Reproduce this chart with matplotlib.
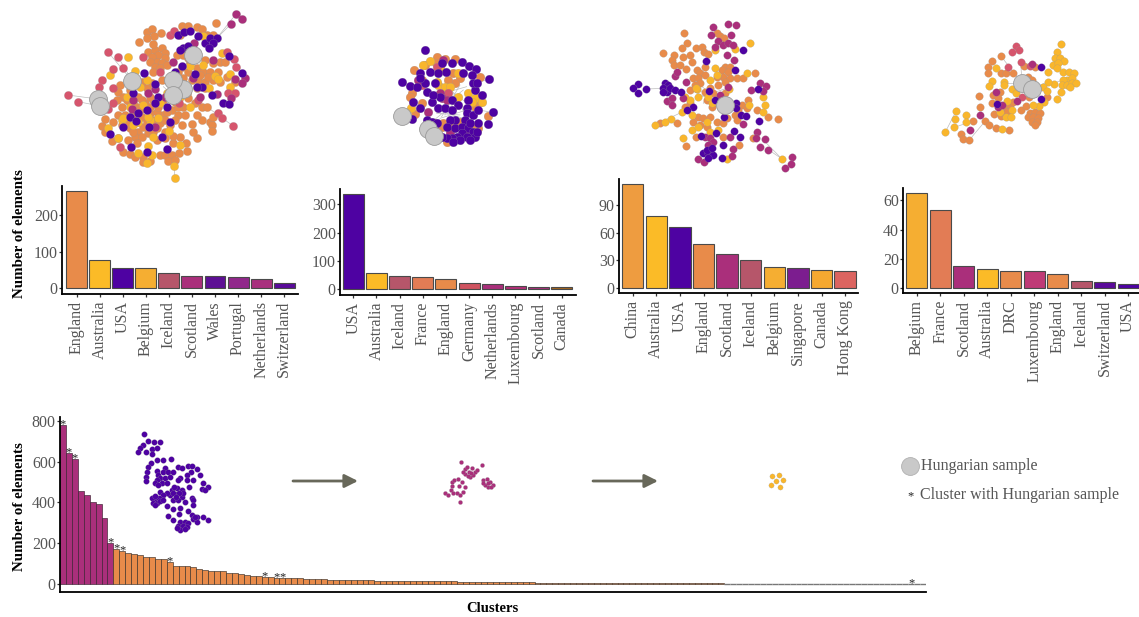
import matplotlib
matplotlib.use("Agg")
import matplotlib.pyplot as plt

W, H = 1139, 617
plt.rcParams['font.family'] = ['Liberation Serif', 'DejaVu Serif']

ORANGE = "#E88B4A"
YELLOW = "#F9B62C"
PURPLE = "#4E02A2"
MAGENTA = "#AA2F7B"
ROSE = "#D6556D"
GRAY_NODE = "#C9C9C9"
TEXT_GRAY = "#555555"

# === Country bars ===
countries1 = ["England", "Australia", "USA", "Belgium", "Iceland", "Scotland", "Wales", "Portugal", "Netherlands", "Switzerland"]
counts1 = [267, 76, 55, 55, 42, 33, 33, 30, 24, 13]
colors1 = [ORANGE, "#FBBB27", PURPLE, "#F5AE32", "#B6566A", MAGENTA, "#5D0F94", "#91288B", "#A9307E", "#5A0A9A"]
yticks1 = [0, 100, 200]

countries2 = ["USA", "Australia", "Iceland", "France", "England", "Germany", "Netherlands", "Luxembourg", "Scotland", "Canada"]
counts2 = [336, 56, 48, 42, 37, 23, 18, 12, 7, 7]
colors2 = [PURPLE, "#FBBB27", "#B6566A", "#E27C55", ORANGE, "#CF5360", MAGENTA, "#B32F78", MAGENTA, "#A8651A"]
yticks2 = [0, 100, 200, 300]

countries3 = ["China", "Australia", "USA", "England", "Scotland", "Iceland", "Belgium", "Singapore", "Canada", "Hong Kong"]
counts3 = [113, 78, 66, 48, 37, 30, 23, 22, 20, 18]
colors3 = ["#EE9C40", "#FBBB27", PURPLE, ORANGE, MAGENTA, "#B6566A", "#F5AE32", "#7C1D8F", "#F5A830", "#DC6460"]
yticks3 = [0, 30, 60, 90]

countries4 = ["Belgium", "France", "Scotland", "Australia", "DRC", "Luxembourg", "England", "Iceland", "Switzerland", "USA"]
counts4 = [65, 53, 15, 13, 12, 12, 10, 5, 4, 3]
colors4 = ["#F5AE32", "#E27C55", MAGENTA, "#FBBB27", ORANGE, "#BF3A76", ORANGE, "#B6566A", "#5A0A9A", PURPLE]
yticks4 = [0, 20, 40, 60]

# === Cluster sizes ===
cluster_sizes = [780, 640, 612, 458, 438, 402, 390, 325, 203, 170, 162, 150, 146, 142, 132, 130, 125, 122, 108,
                 90, 90, 90, 83, 72, 70, 65, 62, 62, 56, 55, 48, 43, 40, 40, 34, 32, 30, 28, 27, 27, 27, 25, 25, 24,
                 24, 22, 21, 20, 20, 19, 19, 18, 18, 17, 17, 16, 16, 16, 15, 15, 15, 14, 14, 14, 13, 13, 13, 12, 12,
                 12, 12, 11, 11, 10, 10, 9, 9, 8, 8, 8, 7, 7, 7, 7, 6, 6, 6, 6, 6, 5, 5, 5, 5, 5, 5, 4, 4, 4, 4, 4, 4,
                 4, 3, 3, 3, 3, 3, 3, 3, 3, 3, 3, 2, 2, 2, 2, 2, 2, 2, 1, 1, 1, 1, 1, 1, 1, 1, 1, 1, 1, 1, 1, 1, 1, 1,
                 1, 1, 1, 1, 1, 1, 1, 1, 1, 1, 1, 1]
n_magenta = 9
n_orange_end = 112
starred = [0, 1, 2, 8, 9, 10, 18, 34, 36, 37, 143]

# === Network nodes (3x crop coordinates) ===
net1_orange = [(295,155),(315,150),(335,145),(345,160),(325,165),(305,170),(345,175),(320,185),(300,185),(335,190),(315,200),(330,205),(350,195),(310,215),
               (290,95),(305,88),(333,100),(313,107),(290,115),(268,125),(310,133),(395,77),(415,77),(440,80),(455,87),(498,68),
               (380,165),(400,165),(420,190),(440,170),(465,180),(490,190),(510,185),(395,200),(415,215),(440,205),(460,215),(480,215),(505,215),(400,235),(425,240),(445,240),(465,245),(490,240),(510,245),(440,265),(465,265),(530,230),(555,245),(410,260),(525,185),(470,105),(490,105),(390,105),
               (210,255),(205,275),(220,290),(240,270),(265,290),(290,265),(310,300),(200,300),(215,320),(240,310),(260,320),(285,310),(300,340),(275,350),(225,345),(245,345),(205,345),(190,365),(215,375),(240,385),(265,395),(295,400),(320,385),(345,395),(360,375),(340,345),(320,335),(365,330),(385,345),(400,320),(375,305),(415,295),(435,310),(340,300),(255,410),(275,410),(235,420),(260,430),(155,378),(165,358),(165,395),(185,423),(205,413),(220,455),(240,462),(255,470),(280,470),(278,485),(300,484),(330,465),(345,465),(365,465),(388,460),(412,452),(355,484),(375,480),(370,430),(390,410),(345,415),(320,420),(370,408),(408,430),(442,413),(430,395),(425,372),(455,360),(480,365),(490,350),(485,375),(487,393),(455,320),(470,320),(440,345),(275,245),(305,250),(335,240),(280,380),(310,360),
               (230,300),(250,310),(275,300),(300,320),(325,320),(350,335),(330,370),(290,365),(260,365),(230,365),(250,395),(310,395),(385,320),(405,345),(395,375),(375,360),(410,280),(385,215),(415,175),(450,225),(475,230),(430,225),(300,290),(270,330),(345,360)]
net1_yellow = [(235,172),(180,225),(255,212),(290,240),(270,262),(230,290),(300,360),(250,375),(215,360),(175,385),(205,415),(265,365),(295,350),(325,355),(358,393),(310,410),(295,437),(263,458),(307,465),(290,488),(372,497),(375,533),(390,435),(420,322),(390,290),(330,310),(280,315),(240,320),(420,198),(460,195),(495,228),(505,238),(540,262),(540,222),(515,158),(460,108),(478,265),(350,278),(218,355)]
net1_rose = [(173,155),(205,172),(220,205),(190,206),(157,241),(148,260),(190,265),(280,172),(53,285),(84,305),(175,327),(188,308),(360,105),(372,92),(388,310),(505,340),(516,355),(548,377),(210,440),(330,215),(530,155),(552,178),(558,200),(535,280),(555,280),(445,300)]
net1_magenta = [(433,130),(370,185),(428,235),(500,283),(558,42),(575,57),(543,72),(585,235),(575,248),(555,237),(543,295),(295,280),(315,268),(250,300),(245,328),(315,380),(345,290),(450,290),(490,180)]
net1_purple = [(385,105),(402,97),(420,92),(445,108),(465,130),(480,115),(500,115),(490,130),(478,145),(400,145),(415,138),(390,150),(395,198),(375,215),(370,225),(435,222),(455,262),(440,262),(485,285),(520,308),(538,313),(538,168),(575,218),(283,218),(315,252),(325,290),(250,280),(315,310),(350,320),(290,330),(265,340),(240,350),(257,362),(218,380),(298,380),(360,365),(180,403),(244,440),(292,455),(352,448),(335,410)]
net1_gray = [(430,165),(247,243),(398,268),(368,241),(368,284),(143,297),(150,318)]
net1_edges = [((53,285),(143,297)),((84,305),(150,318)),((558,42),(500,115)),((543,72),(500,115)),((173,155),(247,243)),((205,172),(247,243)),((548,377),(470,320)),((375,533),(372,497)),((345,250),(400,300)),((340,260),(368,284)),((368,241),(430,165))]

net2_orange = [(200,80),(198,100),(225,88),(255,88),(133,120),(165,105),(155,150),(125,190),(120,200),(155,218),(330,140),(135,252),(355,258),(325,205),(330,215),(315,230),(250,130),(270,145),(255,160),(235,150),(215,290),(220,280),(240,280),(230,335),(195,280),(305,290),(325,295),(270,275),(240,300)]
net2_yellow = [(180,92),(160,105),(205,165),(225,170),(240,170),(265,200),(295,190),(315,205),(335,215),(122,235),(210,115),(265,130),(200,155),(305,215)]
net2_rose = [(200,110),(155,165),(235,190)]
net2_magenta = [(220,90),(145,150),(210,190),(215,205),(230,210),(175,245),(290,285),(285,310),(240,310)]
net2_purple = [(165,60),(95,157),(358,148),(368,247),(355,283),(125,267),(150,130),(180,125),(215,100),(245,100),(275,97),(298,108),(318,118),(305,135),(280,128),(228,125),(205,130),(120,168),(140,170),(165,160),(195,160),(170,185),(130,215),(150,235),(185,215),(205,235),(225,235),(245,210),(295,210),(335,195),(315,180),(310,160),(320,160),(290,235),(265,225),(245,240),(290,250),(310,255),(325,240),(285,270),(255,270),(240,270),(170,270),(185,275),(200,280),(230,290),(255,295),(275,290),(295,295),(310,305),(275,310),(260,320),(245,325),(230,325),(290,320),(270,330),(250,335),(215,320),(165,290),(325,280),(300,280),(210,200),(190,195),(150,145),(315,320),(300,330),(320,305)]
net2_gray = [(95,258),(175,298),(192,318)]
net2_edges = [((200,170),(270,240)),((215,160),(285,215)),((240,150),(225,255)),((270,165),(215,260)),((205,240),(280,180)),((250,190),(290,260)),((210,265),(290,240)),((200,250),(270,255)),((180,280),(260,215)),((230,250),(280,265)),((290,170),(220,190)),((95,258),(150,235)),((358,148),(310,160)),((368,247),(325,240))]

net3_orange = [(221,70),(232,98),(215,115),(160,128),(192,135),(185,150),(192,165),(210,165),(218,142),(240,135),(245,155),(228,178),(258,115),(277,110),(283,125),(295,133),(322,68),(330,78),(342,85),(260,180),(285,170),(270,190),(250,205),(265,205),(285,195),(270,220),(255,225),(240,240),(345,170),(360,170),(335,180),(355,185),(340,200),(360,205),(380,205),(400,205),(435,190),(320,200),(345,215),(325,225),(300,235),(285,245),(310,250),(290,270),(325,265),(240,280),(225,290),(265,320),(280,325),(300,320),(250,335),(270,345),(290,350),(320,335),(340,340),(350,325),(375,315),(380,330),(395,285),(410,295),(385,300),(415,270),(442,300),(473,322),(505,328),(200,340),(150,340),(257,380),(228,407),(340,380),(388,405),(430,385),(345,250),(305,290)]
net3_yellow = [(315,120),(375,117),(420,100),(412,190),(300,210),(315,175),(320,195),(260,237),(357,238),(295,260),(265,260),(240,270),(225,260),(458,262),(465,285),(418,285),(458,306),(305,280),(215,307),(245,315),(183,326),(165,336),(135,344),(245,360),(265,350),(300,365),(325,360),(218,385),(290,335),(515,446),(352,446),(258,235)]
net3_magenta = [(310,52),(355,41),(377,44),(304,74),(362,74),(325,92),(315,110),(340,105),(355,100),(370,105),(352,135),(372,150),(194,198),(202,185),(227,217),(220,263),(170,274),(186,265),(185,285),(423,240),(451,220),(468,228),(460,243),(398,342),(440,366),(438,385),(465,387),(451,412),(475,419),(370,418),(360,380),(285,382),(300,385),(310,395),(295,405),(265,447),(283,457),(366,437),(545,441),(542,462),(525,474),(355,230),(330,255)]
net3_purple = [(83,221),(69,235),(107,237),(83,249),(165,220),(175,225),(160,235),(170,245),(180,235),(160,245),(195,240),(213,245),(400,120),(287,152),(375,180),(297,242),(315,270),(250,290),(230,300),(378,280),(378,295),(392,315),(408,317),(446,333),(445,238),(343,322),(373,363),(390,380),(340,406),(337,445),(280,430),(295,430),(310,435),(295,445),(290,420),(305,415),(318,370),(272,378)]
net3_gray = [(345,286)]
net3_edges = [((240,240),(345,286)),((270,225),(345,286)),((255,240),(340,255)),((260,265),(350,235)),((300,230),(280,280)),((515,446),(475,419)),((135,344),(215,307)),((107,237),(165,235)),((460,390),(515,446))]

net4_yellow = [(392,43),(380,65),(375,85),(390,85),(403,92),(370,105),(385,100),(380,115),(400,125),(418,125),(432,128),(410,150),(425,145),(398,150),(395,165),(410,165),(425,160),(438,160),(420,172),(372,163),(393,187),(380,207),(355,127),(353,155),(338,172),(352,183),(343,217),(328,228),(310,225),(198,115),(185,152),(178,167),(222,155),(222,165),(247,178),(258,188),(232,213),(78,244),(76,266),(107,254),(108,277),(72,292),(46,306),(246,240),(227,262),(242,262),(217,298),(210,245)]
net4_orange = [(212,77),(187,92),(175,110),(173,130),(213,128),(228,130),(248,128),(283,108),(316,112),(147,198),(150,230),(128,274),(165,274),(178,285),(197,293),(238,300),(92,311),(100,326),(117,331),(190,195),(210,185),(205,205),(185,220),(225,230),(240,225),(250,215),(193,252),(212,258),(272,240),(288,228),(283,165),(295,140),(305,150),(350,200),(300,250),(315,245),(330,250),(295,260),(310,262),(325,265),(305,275),(320,275),(315,285),(298,200),(230,245)]
net4_rose = [(258,48),(268,60),(245,65),(272,96),(233,112),(300,108),(275,200)]
net4_magenta = [(150,256),(120,300),(197,187),(205,230),(215,225),(260,213),(305,102)]
net4_purple = [(202,222),(332,112),(334,208)]
net4_gray = [(276,160),(305,178)]
net4_edges = [((46,306),(78,244)),((72,292),(128,274)),((117,331),(165,274)),((222,160),(276,160)),((353,155),(305,178)),((398,150),(338,172)),((212,77),(276,160)),((272,96),(276,160))]

small_purple = [(432,103),(443,123),(462,125),(479,127),(428,135),(420,143),(414,155),(437,157),(455,147),(470,145),(455,163),(470,180),(488,180),(512,177),(453,190),(445,200),(440,215),(437,230),(437,243),(470,212),(495,205),
                (475,225),(490,215),(505,215),(520,215),(480,235),(495,235),(510,230),(470,240),(485,250),(500,250),(465,250),(475,255),(535,200),(545,205),(563,198),(577,198),(573,215),(590,208),(600,225),(562,225),(560,240),(578,240),(540,233),(610,250),(623,260),(607,268),(615,270),
                (530,283),(515,270),(530,265),(545,270),(510,285),(545,290),(520,300),(535,300),(550,280),(522,262),(500,278),(480,275),(490,285),(520,280),(538,278),(528,292),
                (466,300),(456,295),(476,295),(458,310),(472,310),(466,288),(480,303),(465,316),(490,300),(500,318),(520,328),(540,325),(563,333),(555,305),(575,295),(580,300),(578,315),(537,343),(505,348),(520,360),
                (540,365),(555,365),(565,368),(535,378),(548,378),(560,380),(540,390),(555,388),(530,383),(575,345),(590,350),(610,350),(580,358),(590,365),(625,360),(535,240),(567,260),(585,350)]
small_magenta = [(506,215),(495,208),(515,205),(525,215),(495,222),(510,230),(520,225),(500,200),(490,215),(530,210),(512,218),(503,228),
                 (482,185),(547,196),(455,245),(463,240),(475,238),(487,245),(495,262),(477,258),(455,258),(453,270),(460,278),(470,280),(480,285),(490,275),(435,278),(445,285),(480,305),
                 (550,240),(560,238),(570,245),(578,255),(565,262),(555,255),(565,250),(572,262),(548,248)]
small_yellow = [(215,138),(236,135),(229,152),(249,151),(213,166),(241,170)]

fig = plt.figure(figsize=(W / 100, H / 100), dpi=100)


def px_axes(left, top, right, bottom):
    return fig.add_axes([left / W, 1 - bottom / H, (right - left) / W, (bottom - top) / H])


def style_axes(ax):
    ax.spines['top'].set_visible(False)
    ax.spines['right'].set_visible(False)
    ax.spines['left'].set_linewidth(1.3)
    ax.spines['bottom'].set_linewidth(1.3)
    ax.tick_params(length=2, width=0.9, color="#333333", labelcolor=TEXT_GRAY, labelsize=11.5, pad=1)


def country_bars(box, zero_y, px_per_unit, first_c, pitch, names, values, colors, ticks):
    left, top, right, bottom = box
    ax = px_axes(left, top, right, bottom)
    ax.bar(range(len(names)), values, width=0.91, color=colors, edgecolor="#4a4a4a", linewidth=0.8)
    ax.set_xlim((left - first_c) / pitch, (right - first_c) / pitch)
    ax.set_ylim(-(bottom - zero_y) / px_per_unit, (zero_y - top) / px_per_unit)
    ax.set_xticks(range(len(names)))
    ax.set_xticklabels(names, rotation=90, fontsize=11)
    ax.set_yticks(ticks)
    style_axes(ax)
    ax.tick_params(axis='x', pad=3)
    return ax


country_bars((62, 186, 298, 294), 288, 0.365, 76.7, 23.05, countries1, counts1, colors1, yticks1)
country_bars((340, 189, 576, 295), 289.3, 0.283, 353.3, 23.15, countries2, counts2, colors2, yticks2)
country_bars((619, 179, 858, 293), 288, 0.922, 632.7, 23.6, countries3, counts3, colors3, yticks3)
country_bars((903, 188, 1139, 293), 288.3, 1.47, 916.7, 23.5, countries4, counts4, colors4, yticks4)

# cluster bars
ax = px_axes(60, 417, 926, 592)
for i, size in enumerate(cluster_sizes):
    if i < n_magenta:
        col, edge, lw = MAGENTA, "#3a2030", 0.45
    elif i < n_orange_end:
        col, edge, lw = ORANGE, "#3a3028", 0.45
    else:
        col, edge, lw = "#777777", "#777777", 1.0
    ax.bar(i, size, width=1.0, color=col, edgecolor=edge, linewidth=lw)
ax.set_xlim(-0.5, 145.5)
ax.set_ylim(-8 / 0.204, 167 / 0.204)
ax.set_xticks([])
ax.set_yticks([0, 200, 400, 600, 800])
style_axes(ax)
for i in starred:
    ax.text(i, cluster_sizes[i] + 3, "*", fontsize=9, ha='center', va='center', color="#222222")

# networks
overlay = fig.add_axes([0, 0, 1, 1])
overlay.set_xlim(0, W)
overlay.set_ylim(H, 0)
overlay.axis('off')
overlay.patch.set_alpha(0)


def draw_nodes(origin, groups, edges, gray, size):
    ox, oy = origin
    for a, b in edges:
        overlay.plot([ox + a[0] / 3, ox + b[0] / 3], [oy + a[1] / 3, oy + b[1] / 3],
                     color="#BDBDBD", lw=0.5, zorder=1)
    for pts, col in groups:
        overlay.scatter([ox + p[0] / 3 for p in pts], [oy + p[1] / 3 for p in pts], s=size, color=col,
                        edgecolors="#999999", linewidths=0.15, zorder=2)
    if gray:
        overlay.scatter([ox + p[0] / 3 for p in gray], [oy + p[1] / 3 for p in gray], s=165, color=GRAY_NODE,
                        edgecolors="#9a9a9a", linewidths=0.6, zorder=3)


draw_nodes((50, 0), [(net1_orange, ORANGE), (net1_yellow, YELLOW), (net1_rose, ROSE),
                     (net1_magenta, MAGENTA), (net1_purple, PURPLE)], net1_edges, net1_gray, 36)
draw_nodes((370, 30), [(net2_orange, ORANGE), (net2_yellow, YELLOW), (net2_rose, ROSE),
                       (net2_magenta, MAGENTA), (net2_purple, PURPLE)], net2_edges, net2_gray, 40)
draw_nodes((610, 10), [(net3_orange, ORANGE), (net3_yellow, YELLOW), (net3_magenta, MAGENTA),
                       (net3_purple, PURPLE)], net3_edges, net3_gray, 30)
draw_nodes((930, 30), [(net4_orange, ORANGE), (net4_yellow, YELLOW), (net4_rose, ROSE),
                       (net4_magenta, MAGENTA), (net4_purple, PURPLE)], net4_edges, net4_gray, 30)
draw_nodes((0, 400), [(small_purple, PURPLE)], [], [], 17)
draw_nodes((300, 400), [(small_magenta, MAGENTA)], [], [], 9)
draw_nodes((700, 430), [(small_yellow, YELLOW)], [], [], 14)

# arrows
for x0, x1 in [(293, 358), (593, 658)]:
    overlay.annotate("", xy=(x1, 481), xytext=(x0, 481),
                     arrowprops=dict(arrowstyle="-|>", color="#68685A", lw=2.0, mutation_scale=20,
                                     shrinkA=0, shrinkB=0))

# legend
overlay.scatter([910], [466], s=165, color=GRAY_NODE, edgecolors="#b0b0b0", linewidths=0.6)
overlay.text(921, 466, "Hungarian sample", fontsize=11.5, color=TEXT_GRAY, va='center')
overlay.text(911, 496, "*", fontsize=9, color="#222222", ha='center', va='center')
overlay.text(920, 495, "Cluster with Hungarian sample", fontsize=11.5, color=TEXT_GRAY, va='center')

# titles
overlay.text(20, 234, "Number of elements", fontsize=10.8, fontweight='bold', rotation=90, ha='center', va='center', color="black")
overlay.text(20, 507, "Number of elements", fontsize=10.8, fontweight='bold', rotation=90, ha='center', va='center', color="black")
overlay.text(492.7, 609, "Clusters", fontsize=10.5, fontweight='bold', ha='center', va='center', color="black")

fig.savefig("out.png", dpi=100)
